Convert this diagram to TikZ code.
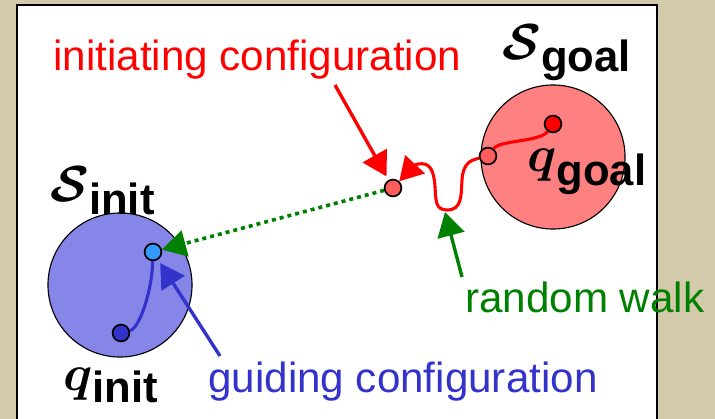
\RequirePackage{fix-cm}
\documentclass[tikz,border=0pt]{standalone}
\usepackage{fontspec}
\setmainfont{Liberation Sans}
\usetikzlibrary{arrows.meta}

\definecolor{marble}{HTML}{D3C9AB}
\definecolor{initfill}{HTML}{8686E8}
\definecolor{goalfill}{HTML}{FF8080}
\definecolor{walkdot}{HTML}{FF5C5C}
\definecolor{guidedot}{HTML}{3399FF}
\definecolor{darkblue}{HTML}{3333CC}
\definecolor{darkgreen}{HTML}{008000}

% set name with a lowered bold subscript
\newcommand{\setname}[3]{{\fontsize{36}{40}\selectfont\boldmath$#1$}\raisebox{#3}{\bfseries #2}}

\begin{document}
\begin{tikzpicture}[x=0.025cm, y=-0.025cm,
	region/.style={circle, draw=black, line width=0.8pt, minimum size=3.6cm, inner sep=0},
	conf/.style={circle, draw=black, line width=1.2pt, minimum size=0.42cm, inner sep=0},
	txt/.style={font=\fontsize{30}{36}\selectfont, anchor=base west, inner sep=0},
	setlbl/.style={font=\fontsize{31}{36}\selectfont, anchor=base west, inner sep=0},
	pointer/.style={line width=2.4pt, -{Triangle[length=0.6cm, width=0.68cm]}},
	trail/.style={line width=2.2pt}
	]
	\useasboundingbox (0,0) rectangle (715,419);
	\clip (0,0) rectangle (715,419);
	\fill[marble] (0,0) rectangle (715,419);
	\draw[line width=2pt, fill=white] (17,5) rectangle (657,440);

	\node (sinit) [region, fill=initfill] at (120,285) {};
	\node (sgoal) [region, fill=goalfill] at (553,157) {};

	\node (qinit) [conf, fill=darkblue] at (121,333) {};
	\node (guide) [conf, fill=guidedot] at (153,252) {};
	\node (qgoal) [conf, fill=red] at (553,124) {};
	\node (exit) [conf, fill=walkdot] at (488,156) {};
	\node (start) [conf, fill=walkdot] at (393,188) {};

	\node (sinitlbl) [setlbl] at (50,202) {\setname{\mathcal{S}}{init}{-0.32cm}};
	\node (sgoallbl) [setlbl] at (502,60) {\setname{\mathcal{S}}{goal}{-0.3cm}};
	\node (qinitlbl) [setlbl] at (63,390) {\setname{q}{init}{-0.3cm}};
	\node (qgoallbl) [setlbl] at (527,172) {\setname{q}{goal}{-0.33cm}};

	\node (initiating) [txt, red] at (53,71) {initiating configuration};
	\node (walk) [txt, darkgreen] at (465,312) {random walk};
	\node (guiding) [txt, darkblue] at (208,392) {guiding configuration};

	\coordinate (ictail) at (335,85);
	\coordinate (rwtail) at (462,277);
	\coordinate (rwtip) at (445,212);
	\coordinate (gctail) at (220,356);

	% paths inside the two regions
	\draw[trail, darkblue] (qinit) .. controls (140,328) and (152,290) .. (guide);
	\draw[trail, red] (exit) .. controls (500,140) and (540,142) .. (qgoal);

	% the walk out of the goal region
	\draw[trail, red, -{Triangle[length=0.58cm, width=0.66cm]}] (exit)
		.. controls (472,160) and (463,162) .. (462,180)
		.. controls (461,196) and (462,210) .. (447,210)
		.. controls (435,210) and (436,200) .. (435,187)
		.. controls (434,170) and (430,162) .. (418,164)
		.. controls (410,166) and (406,174) .. (start);

	\draw[darkgreen, line width=0.09cm, dash pattern=on 0.1cm off 0.1cm,
		-{Triangle[length=0.6cm, width=0.66cm]}] (start) -- (guide);

	\draw[pointer, red, shorten >=0.1cm] (ictail) -- (start);
	\draw[pointer, darkgreen] (rwtail) -- (rwtip);
	\draw[pointer, darkblue, shorten >=0.1cm] (gctail) -- (guide);
\end{tikzpicture}
\end{document}
